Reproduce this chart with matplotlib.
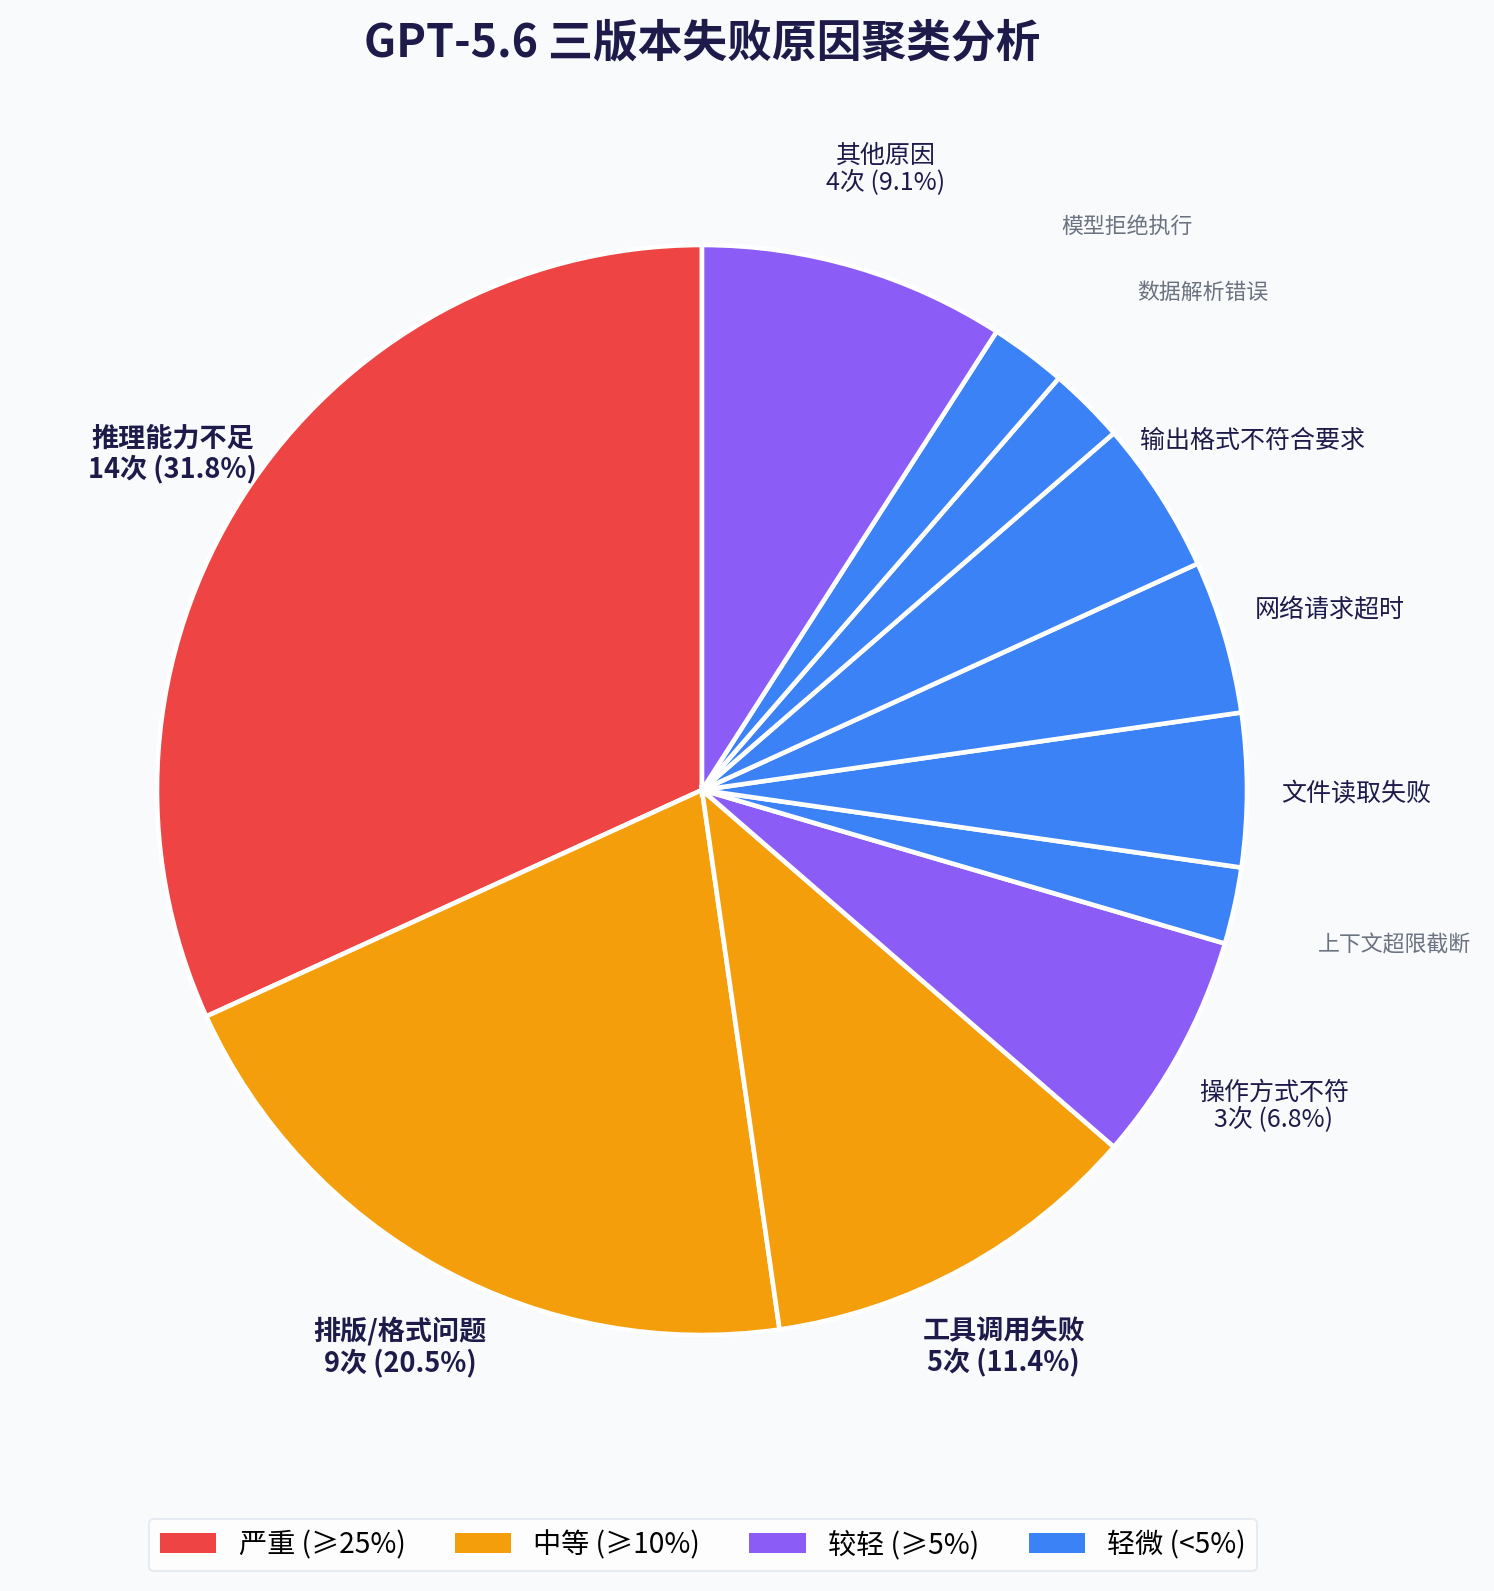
import matplotlib
matplotlib.use("Agg")
import matplotlib.pyplot as plt
from matplotlib.patches import Patch
import numpy as np

plt.rcParams['font.family'] = ['Noto Sans CJK SC', 'DejaVu Sans']

categories = ['推理能力不足', '排版/格式问题', '工具调用失败', '操作方式不符', '上下文超限截断',
              '文件读取失败', '网络请求超时', '输出格式不符合要求', '数据解析错误', '模型拒绝执行', '其他原因']
counts = [14, 9, 5, 3, 1, 2, 2, 2, 1, 1, 4]
legend_labels = ['严重 (≥25%)', '中等 (≥10%)', '较轻 (≥5%)', '轻微 (<5%)']
legend_colors = ['#EF4444', '#F59E0B', '#8B5CF6', '#3B82F6']

total = sum(counts)
pcts = [c / total * 100 for c in counts]

def color_for(p):
    if p >= 25:
        return legend_colors[0]
    if p >= 10:
        return legend_colors[1]
    if p >= 5:
        return legend_colors[2]
    return legend_colors[3]

colors = [color_for(p) for p in pcts]

W, H, DPI = 1494, 1591, 150
fig = plt.figure(figsize=(W / DPI, H / DPI), dpi=DPI)
bg = '#F8FAFC'
fig.patch.set_facecolor(bg)

cx, cy, R = 702, 790, 545
ax = fig.add_axes([0, 0, 1, 1])
ax.set_facecolor(bg)
wedges, _ = ax.pie(counts, colors=colors, startangle=90, counterclock=True,
                   wedgeprops=dict(edgecolor='white', linewidth=2.2))
ax.set_aspect('auto')
ax.set_xlim(-cx / R, (W - cx) / R)
ax.set_ylim(-(H - cy) / R, cy / R)
ax.axis('off')

dark = '#1E1B4B'
for w, name, c, p in zip(wedges, categories, counts, pcts):
    ang = np.deg2rad((w.theta1 + w.theta2) / 2)
    if p >= 10:
        d, txt, fs, fw, col = 1.155, f'{name}\n{c}次 ({p:.1f}%)', 13, 'bold', dark
    elif p >= 5:
        d, txt, fs, fw, col = 1.195, f'{name}\n{c}次 ({p:.1f}%)', 12, 'normal', dark
    elif c >= 2:
        d, txt, fs, fw, col = 1.2, name, 12, 'normal', dark
    else:
        d, txt, fs, fw, col = 1.3, name, 10.5, 'normal', '#6B7280'
    ax.text(d * np.cos(ang), d * np.sin(ang) - 0.008, txt, ha='center', va='center',
            fontsize=fs, fontweight=fw, color=col, multialignment='center', linespacing=1.1)

fig.text(702 / W, 1 - 43 / H, 'GPT-5.6 三版本失败原因聚类分析', ha='center', va='center',
         fontsize=21.5, fontweight='bold', color=dark)

handles = [Patch(facecolor=c, edgecolor='none', label=l) for c, l in zip(legend_colors, legend_labels)]
leg = fig.legend(handles=handles, loc='center', bbox_to_anchor=(703 / W, 1 - 1545 / H), ncol=4,
                 prop={'family': ['Noto Sans CJK SC', 'DejaVu Sans'], 'size': 13.5},
                 frameon=True, columnspacing=1.75, handlelength=2.0)
leg.get_frame().set_facecolor('white')
leg.get_frame().set_edgecolor('#E2E8F0')

fig.savefig('out.png', dpi=DPI, facecolor=bg)
